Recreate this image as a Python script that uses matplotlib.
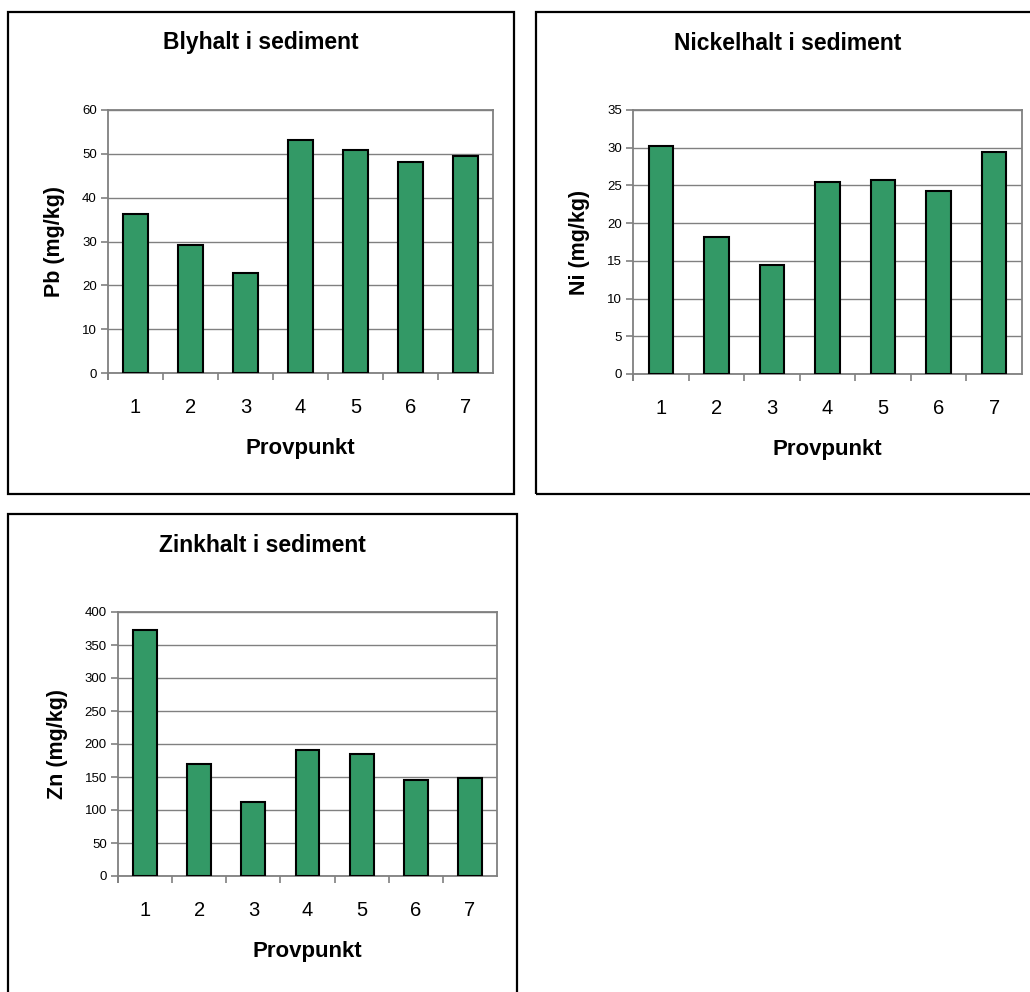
import matplotlib
matplotlib.use('Agg')
import matplotlib.pyplot as plt
from matplotlib.patches import Rectangle

plt.rcParams['font.family'] = ['Liberation Sans', 'DejaVu Sans']

W, H = 1030, 992

points = [1, 2, 3, 4, 5, 6, 7]
pb = [36.3, 29.1, 22.7, 53.2, 50.9, 48.2, 49.6]
ni = [30.2, 18.1, 14.4, 25.5, 25.7, 24.2, 29.4]
zn = [373, 170, 112, 191, 185, 146, 148]

BAR = '#339966'
GRID = '#808080'


def px_rect(left, top, right, bottom):
    """pixel box -> figure fraction [l, b, w, h]"""
    return [left / W, 1 - bottom / H, (right - left) / W, (bottom - top) / H]


def panel(fig, box, axbox, title, ylabel, values, ymax, ystep):
    l, t, r, b = box
    fig.patches.append(Rectangle((l / W, 1 - b / H), (r - l) / W, (b - t) / H,
                                 transform=fig.transFigure, fill=False,
                                 edgecolor='black', linewidth=1.6, zorder=0))
    fig.text((l + r) / 2 / W, 1 - (t + 31) / H, title, ha='center', va='center',
             fontsize=16.5, fontweight='bold')

    ax = fig.add_axes(px_rect(*axbox))
    ax.bar(points, values, width=0.44, color=BAR, edgecolor='black',
           linewidth=1.5, zorder=3)
    ax.set_xlim(0.5, 7.5)
    ax.set_ylim(0, ymax)
    ax.set_yticks(range(0, ymax + 1, ystep))
    ax.yaxis.grid(True, color=GRID, linewidth=1.0, zorder=0)
    for s in ax.spines.values():
        s.set_color(GRID)
        s.set_linewidth(1.3)
    ax.tick_params(axis='y', direction='out', length=5, color=GRID,
                   width=1.2, labelsize=9.5, pad=3)
    # category labels in the middle, tick marks on the boundaries
    ax.set_xticks(points)
    ax.set_xticks([p + 0.5 for p in range(7)] + [0.5], minor=True)
    ax.tick_params(axis='x', which='major', length=0, labelsize=14.5, pad=18)
    ax.tick_params(axis='x', which='minor', direction='out', length=5,
                   color=GRID, width=1.2)
    ax.set_xlabel('Provpunkt', fontsize=16, fontweight='bold', labelpad=15)
    ax.set_ylabel(ylabel, fontsize=15.5, fontweight='bold', labelpad=12)
    return ax


fig = plt.figure(figsize=(W / 100, H / 100), dpi=100)

panel(fig, (8, 12, 514, 494), (108, 110, 493, 373),
      'Blyhalt i sediment', 'Pb (mg/kg)', pb, 60, 10)
panel(fig, (536, 12, 1040, 494), (633, 110, 1022, 374),
      'Nickelhalt i sediment', 'Ni (mg/kg)', ni, 35, 5)
panel(fig, (8, 514, 517, 1000), (118, 612, 497, 876),
      'Zinkhalt i sediment', 'Zn (mg/kg)', zn, 400, 50)

fig.savefig('out.png', dpi=100)
